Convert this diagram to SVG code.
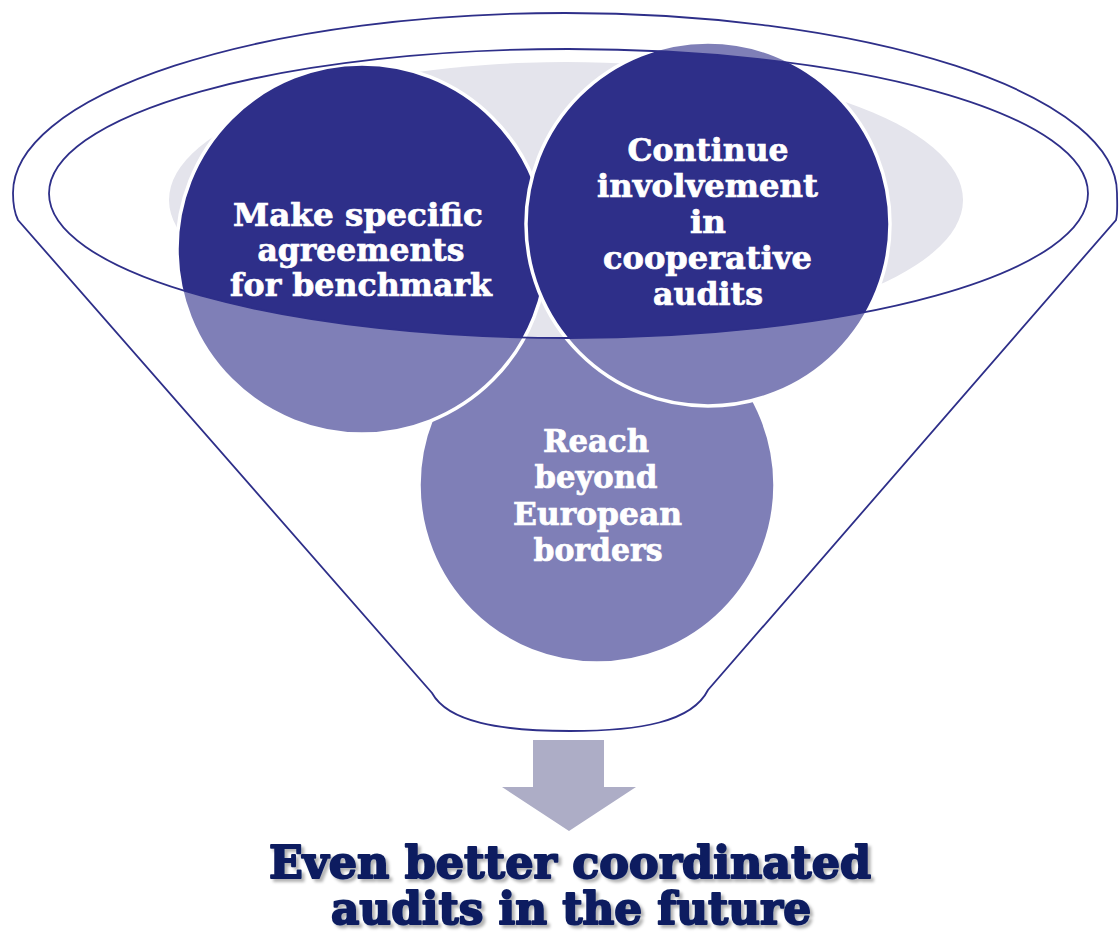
<svg xmlns="http://www.w3.org/2000/svg" width="1120" height="932" viewBox="0 0 1120 932">
  <style>
    .disc { fill: #2e2f89; stroke: #ffffff; stroke-width: 3.5; }
    .label { font-family: "DejaVu Serif", "Liberation Serif", serif; font-weight: bold; font-size: 31px; fill: #ffffff; stroke: #ffffff; stroke-width: 0.7; text-anchor: middle; }
    .rim { fill: none; stroke: #2e2f89; stroke-width: 1.8; }
    .title { font-family: "DejaVu Serif", "Liberation Serif", serif; font-weight: bold; font-size: 45px; fill: #0b1f60; stroke: #0b1f60; stroke-width: 2; stroke-linejoin: round; text-anchor: middle; }
  </style>
  <defs>
    <filter id="shadow" x="-5%" y="-20%" width="110%" height="150%">
      <feGaussianBlur in="SourceAlpha" stdDeviation="1.6"/>
      <feOffset dx="2.5" dy="3" result="off"/>
      <feFlood flood-color="#000000" flood-opacity="0.3"/>
      <feComposite in2="off" operator="in"/>
      <feMerge>
        <feMergeNode/>
        <feMergeNode in="SourceGraphic"/>
      </feMerge>
    </filter>
  </defs>

  <rect width="1120" height="932" fill="#ffffff"/>

  <!-- the three items; the mouth shading sits between the back item and the front two -->
  <g id="node-reach">
    <circle class="disc" cx="597" cy="485" r="178"/>
  </g>

  <!-- shaded inside of the funnel mouth -->
  <ellipse id="mouth" cx="566" cy="200" rx="397" ry="138" fill="#e4e4ec"/>

  <g id="node-benchmark">
    <circle class="disc" cx="362" cy="249" r="185"/>
  </g>
  <g id="node-cooperative">
    <circle class="disc" cx="708" cy="224" r="182"/>
  </g>

  <!-- funnel body: translucent white over everything except the mouth opening -->
  <g id="funnel">
    <path fill="#ffffff" fill-opacity="0.39" fill-rule="evenodd"
      d="M18,220 C14,212 13,202 13,193 A552,180 0 0 1 1117,193 C1117,202 1118,212 1116,220 L708,690 C692,722 640,731 570,731 C500,731 448,722 432,693 Z
         M49,193.5 A519.5,144.5 0 1 0 1088,193.5 A519.5,144.5 0 1 0 49,193.5 Z"/>
    <path class="rim"
      d="M18,220 C14,212 13,202 13,193 A552,180 0 0 1 1117,193 C1117,202 1118,212 1116,220 L708,690 C692,722 640,731 570,731 C500,731 448,722 432,693 Z"/>
    <ellipse class="rim" cx="568.5" cy="193.5" rx="519.5" ry="144.5"/>
  </g>

  <!-- item labels -->
  <g id="labels">
    <text class="label"><tspan x="358" y="226" textLength="250" lengthAdjust="spacingAndGlyphs">Make specific</tspan><tspan x="361" y="261" textLength="207" lengthAdjust="spacingAndGlyphs">agreements</tspan><tspan x="361" y="296" textLength="262" lengthAdjust="spacingAndGlyphs">for benchmark</tspan></text>
    <text class="label"><tspan x="708" y="161" textLength="161" lengthAdjust="spacingAndGlyphs">Continue</tspan><tspan x="707.5" y="197" textLength="221" lengthAdjust="spacingAndGlyphs">involvement</tspan><tspan x="708" y="233" textLength="36" lengthAdjust="spacingAndGlyphs">in</tspan><tspan x="707.5" y="269" textLength="209" lengthAdjust="spacingAndGlyphs">cooperative</tspan><tspan x="708" y="305" textLength="110" lengthAdjust="spacingAndGlyphs">audits</tspan></text>
    <text class="label"><tspan x="596" y="452" textLength="106" lengthAdjust="spacingAndGlyphs">Reach</tspan><tspan x="596" y="488" textLength="123" lengthAdjust="spacingAndGlyphs">beyond</tspan><tspan x="597.5" y="525" textLength="169" lengthAdjust="spacingAndGlyphs">European</tspan><tspan x="598" y="561" textLength="129" lengthAdjust="spacingAndGlyphs">borders</tspan></text>
  </g>

  <!-- outcome arrow -->
  <g id="connectors">
    <path d="M533,740 H604 V787 H636 L569,831 L502,787 H533 Z" fill="#adadc6"/>
  </g>

  <!-- outcome -->
  <g id="node-outcome" filter="url(#shadow)">
    <text class="title" x="570" y="878" textLength="602" lengthAdjust="spacingAndGlyphs">Even better coordinated</text>
    <text class="title" x="571" y="924" textLength="480" lengthAdjust="spacingAndGlyphs">audits in the future</text>
  </g>
</svg>
